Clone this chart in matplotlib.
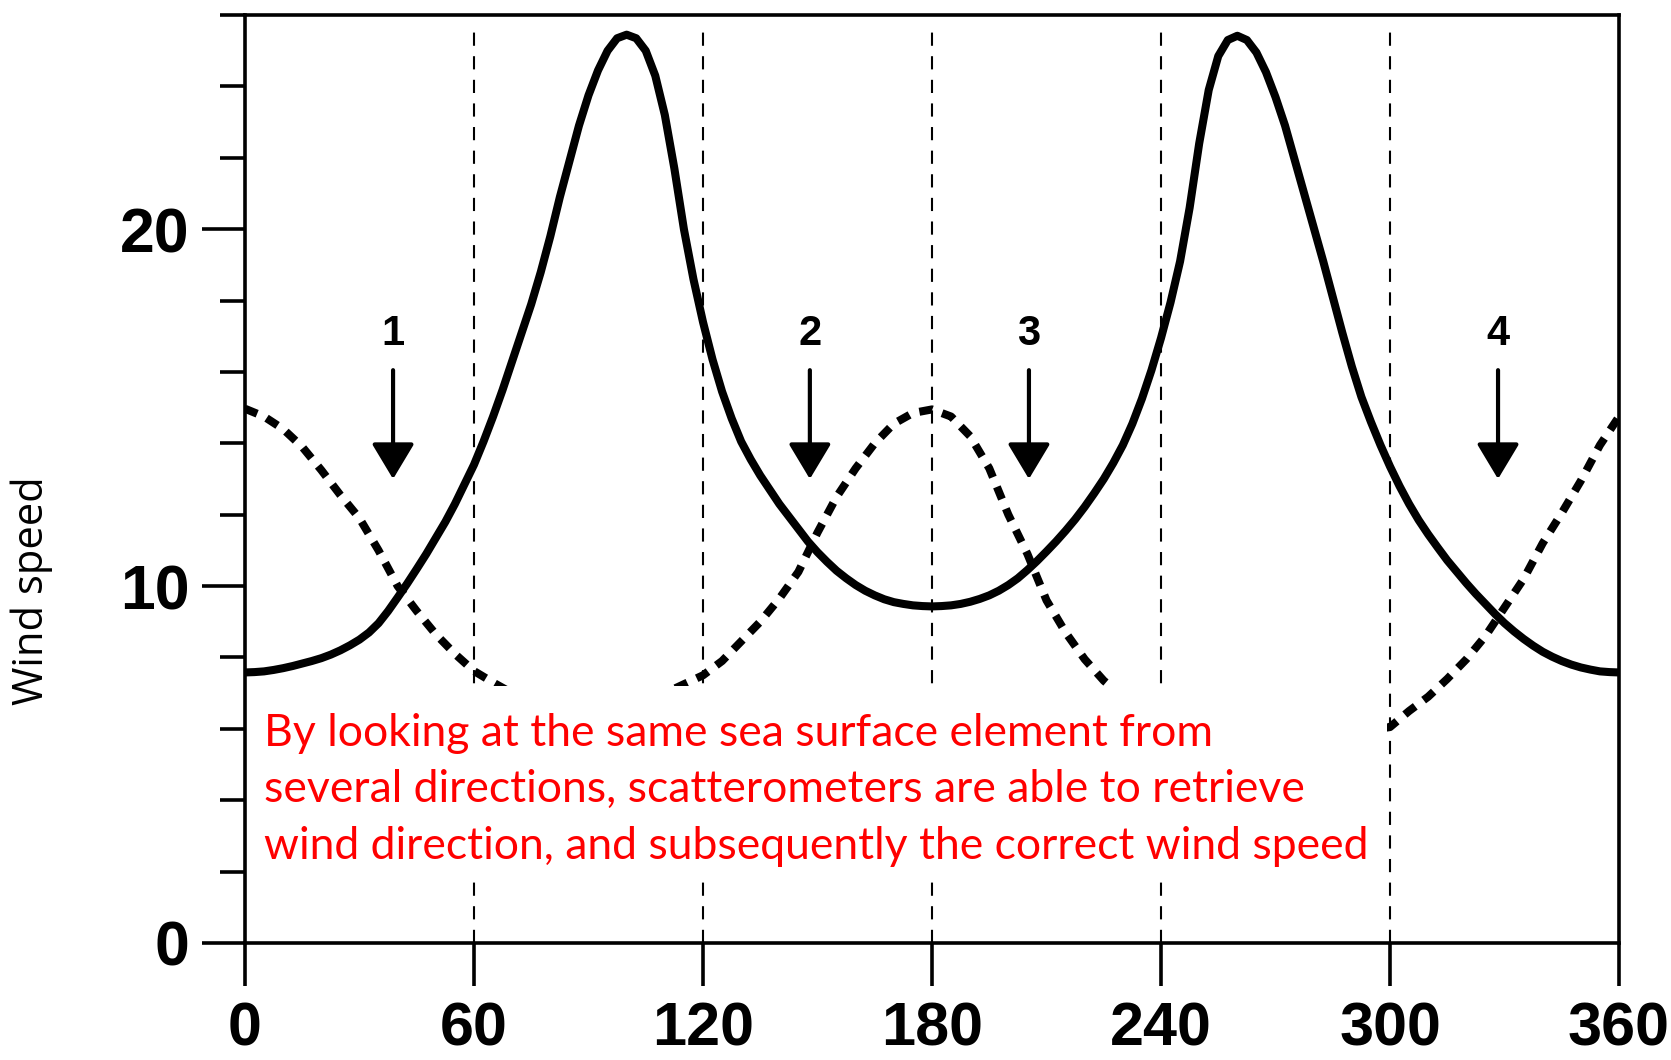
import matplotlib
matplotlib.use("Agg")
import matplotlib.pyplot as plt
from matplotlib.patches import Rectangle
from matplotlib.ticker import MultipleLocator, FixedLocator

plt.rcParams['lines.scale_dashes'] = False

# solid curve: wind speed vs direction (read every 2.5 deg)
solid_x = [i * 2.5 for i in range(145)]
solid_y = [7.58, 7.59, 7.61, 7.65, 7.7, 7.76, 7.83, 7.9, 7.98, 8.08, 8.2, 8.34, 8.5,
           8.7, 8.96, 9.3, 9.68, 10.07, 10.48, 10.9, 11.35, 11.8, 12.3, 12.85, 13.4,
           14.05, 14.75, 15.5, 16.3, 17.1, 17.9, 18.8, 19.8, 20.9, 21.9, 22.9, 23.75,
           24.45, 25.0, 25.35, 25.45, 25.35, 25.0, 24.3, 23.2, 21.7, 20.0, 18.6, 17.4,
           16.35, 15.45, 14.7, 14.05, 13.55, 13.1, 12.7, 12.3, 11.95, 11.6, 11.25, 10.95,
           10.68, 10.43, 10.22, 10.03, 9.87, 9.74, 9.63, 9.55, 9.5, 9.46, 9.44, 9.43,
           9.44, 9.46, 9.5, 9.56, 9.64, 9.74, 9.87, 10.03, 10.22, 10.45, 10.7, 10.97,
           11.25, 11.55, 11.87, 12.22, 12.6, 13.0, 13.45, 13.95, 14.55, 15.25, 16.05,
           16.95, 17.95, 19.1, 20.6, 22.4, 23.9, 24.85, 25.3, 25.42, 25.3, 24.95, 24.4,
           23.7, 22.9, 21.95, 21.0, 20.05, 19.1, 18.1, 17.1, 16.15, 15.3, 14.6, 13.95,
           13.35, 12.8, 12.3, 11.85, 11.45, 11.08, 10.72, 10.4, 10.08, 9.78, 9.5, 9.22,
           8.96, 8.73, 8.52, 8.33, 8.16, 8.02, 7.9, 7.8, 7.72, 7.66, 7.61, 7.59, 7.58]

# dotted curve
dot_x = list(range(0, 365, 5))
dot_y = [14.97, 14.75, 14.4, 13.9, 13.25, 12.55, 11.9, 11.0, 10.0, 9.3, 8.65, 8.1, 7.62,
         7.3, 7.0, 6.8, 6.65, 6.55, 6.5, 6.55, 6.65, 6.8, 7.0, 7.25, 7.5, 7.9, 8.45, 9.0,
         9.65, 10.4, 11.5, 12.5, 13.3, 14.0, 14.55, 14.85, 14.95, 14.75, 14.2, 13.3, 12.0,
         10.9, 9.6, 8.7, 7.95, 7.35, 6.9, 6.55, 6.3, 6.1, 5.95, 5.85, 5.8, 5.8, 5.8, 5.8,
         5.82, 5.85, 5.9, 5.97, 6.05, 6.5, 6.9, 7.4, 7.95, 8.6, 9.4, 10.2, 11.2, 12.05,
         12.95, 13.95, 14.75]

vlines_x = [60, 120, 180, 240, 300]
arrow_x = [38.8, 148, 205.4, 328.3]
arrow_labels = ['1', '2', '3', '4']
xticks = [0, 60, 120, 180, 240, 300, 360]
yticks = [0, 10, 20]

note_lines = ["By looking at the same sea surface element from",
              "several directions, scatterometers are able to retrieve",
              "wind direction, and subsequently the correct wind speed"]

fig = plt.figure(figsize=(16.71, 10.60), dpi=100)
ax = fig.add_axes([0.1466, 0.1104, 0.9689 - 0.1466, 0.9858 - 0.1104])
ax.set_xlim(0, 360)
ax.set_ylim(0, 26)

for xv in vlines_x:
    ax.plot([xv, xv], [0, 25.57], color='black', lw=1.5, ls=(0, (9.5, 7.5)), zorder=2)

ax.plot(solid_x, solid_y, color='black', lw=5.8, solid_capstyle='round',
        solid_joinstyle='round', zorder=3)
ax.plot(dot_x, dot_y, color='black', lw=5.8, ls=(0, (9.5, 7.5)),
        dash_capstyle='butt', zorder=3)

for xv, lab in zip(arrow_x, arrow_labels):
    ax.annotate('', xy=(xv, 13.0), xytext=(xv, 16.05),
                arrowprops=dict(arrowstyle='-|>,head_length=0.55,head_width=0.33',
                                lw=3, color='black', shrinkA=0, shrinkB=0,
                                mutation_scale=40), zorder=3)
    ax.text(xv, 17.05, lab, ha='center', va='center', fontsize=30, fontweight='bold',
            family='Liberation Sans', zorder=3)

# white note box
ax.add_patch(Rectangle((0, 1.71), 299.3, 7.19 - 1.71, facecolor='white',
                       edgecolor='none', zorder=4))

for sp in ax.spines.values():
    sp.set_linewidth(2.6)
    sp.set_zorder(6)

ax.xaxis.set_major_locator(FixedLocator(xticks))
ax.yaxis.set_major_locator(FixedLocator(yticks))
ax.yaxis.set_minor_locator(MultipleLocator(2))
ax.tick_params(axis='both', which='major', direction='out', length=31, width=2.6)
ax.tick_params(axis='y', which='minor', direction='out', length=18, width=2.6)
ax.tick_params(axis='y', which='major', pad=9, labelsize=45)
ax.tick_params(axis='x', which='major', pad=11, labelsize=44)
for t in ax.get_xticklabels() + ax.get_yticklabels():
    t.set_fontfamily('Liberation Sans')
    t.set_fontweight('bold')

fig.text(32 / 1671, 1 - 591 / 1060, 'Wind speed', rotation=90, ha='center',
         va='center', fontsize=30, family='Open Sans')

baselines = [746, 802, 859]
for line, yb in zip(note_lines, baselines):
    fig.text(264 / 1671, 1 - yb / 1060, line, ha='left', va='baseline',
             fontsize=32, family='Lato', color='#ff0000', zorder=8)

fig.savefig('out.png', dpi=100)
